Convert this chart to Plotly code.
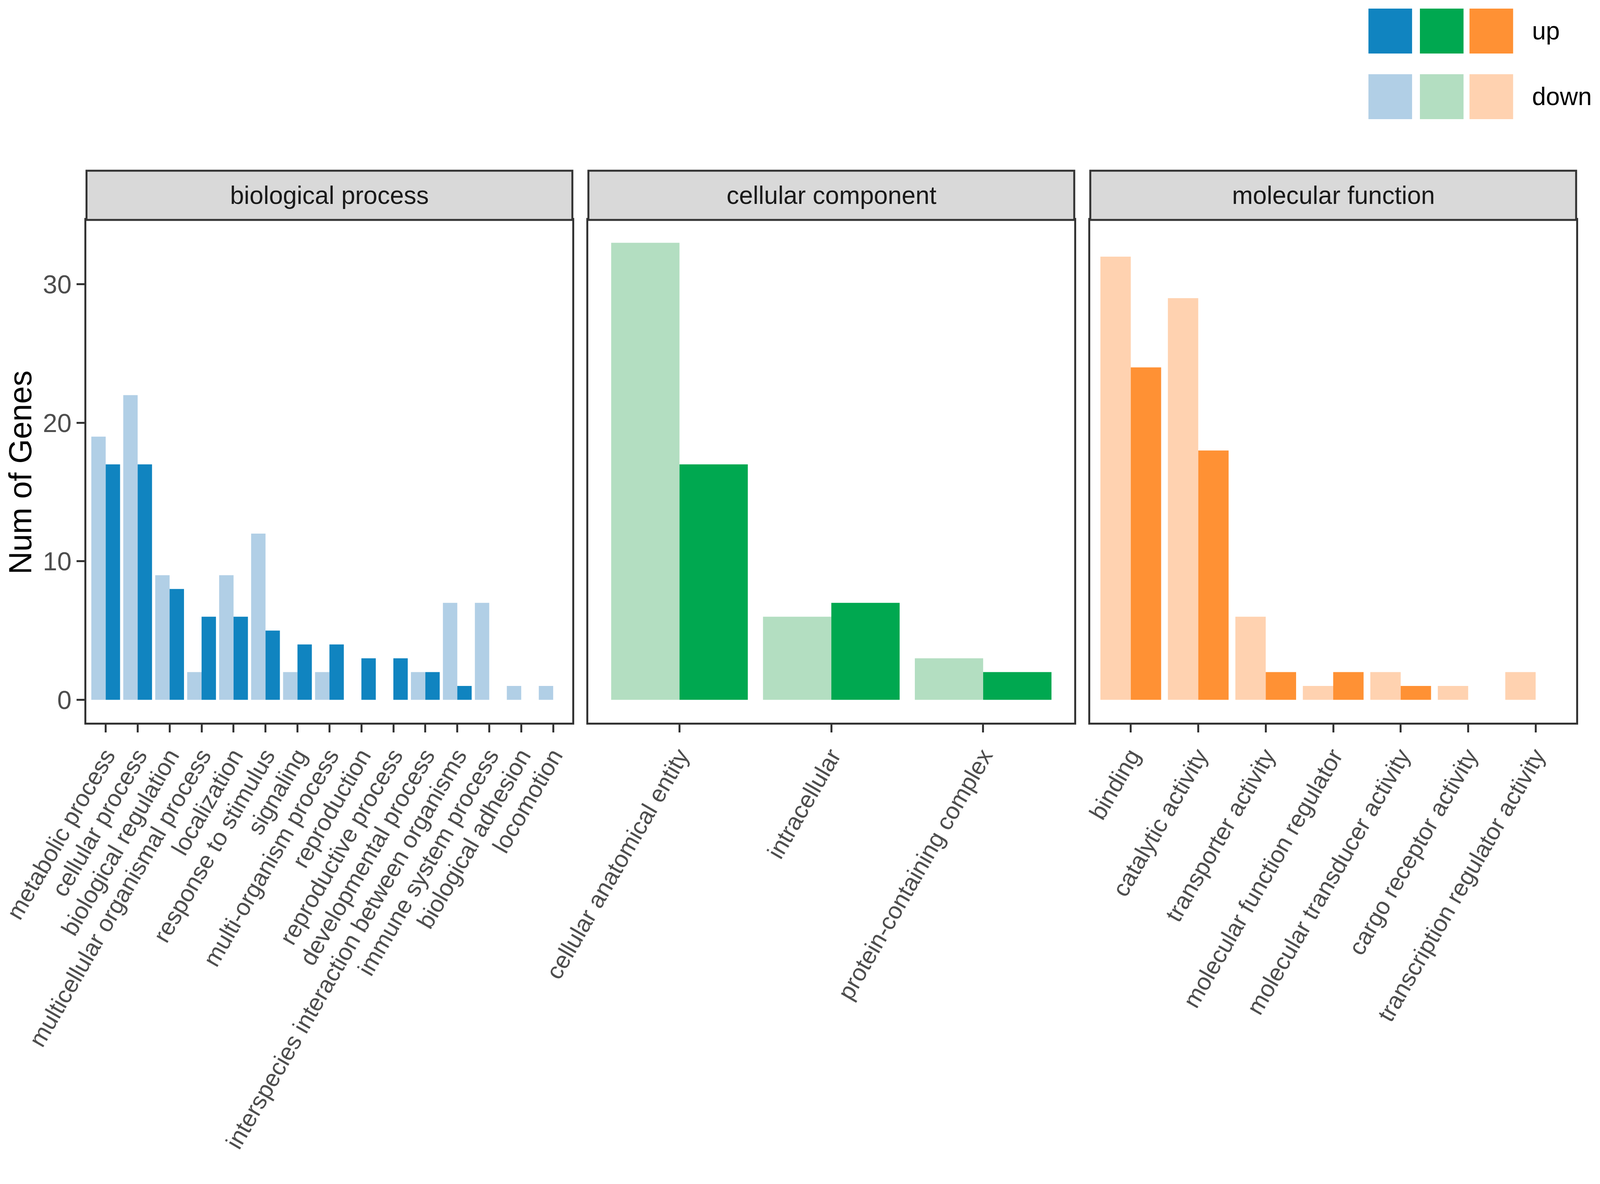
import plotly.graph_objects as go

# reference canvas (positions below are given on this canvas, then used as fractions)
W, H = 4291, 3031

# ---------------- data ----------------
panel_titles = ["biological process", "cellular component", "molecular function"]

bp_terms = ["metabolic process", "cellular process", "biological regulation",
            "multicellular organismal process", "localization", "response to stimulus",
            "signaling", "multi-organism process", "reproduction", "reproductive process",
            "developmental process", "interspecies interaction between organisms",
            "immune system process", "biological adhesion", "locomotion"]
bp_down = [19, 22, 9, 2, 9, 12, 2, 2, 0, 0, 2, 7, 7, 1, 1]
bp_up = [17, 17, 8, 6, 6, 5, 4, 4, 3, 3, 2, 1, 0, 0, 0]

cc_terms = ["cellular anatomical entity", "intracellular", "protein-containing complex"]
cc_down = [33, 6, 3]
cc_up = [17, 7, 2]

mf_terms = ["binding", "catalytic activity", "transporter activity",
            "molecular function regulator", "molecular transducer activity",
            "cargo receptor activity", "transcription regulator activity"]
mf_down = [32, 29, 6, 1, 2, 1, 2]
mf_up = [24, 18, 2, 2, 1, 0, 0]

y_ticks = [0, 10, 20, 30]
legend_labels = ["up", "down"]

up_colors = ["#1084C0", "#00A850", "#FF9134"]
down_colors = ["#B1CFE6", "#B3DEC1", "#FFD2B0"]

# ---------------- layout helpers ----------------
FONT = "Liberation Sans, Arial, Helvetica, sans-serif"
TICK_SIZE = 61
STRIP_SIZE = 64
TITLE_SIZE = 81
LEGEND_SIZE = 64


def px(x):
    return x / W


def py(y):
    return 1 - y / H


panels_x = [(232, 1535), (1578, 2881), (2924, 4227)]
panel_top, panel_bottom = 563, 1850
strip_top = 437
y_range = [-1.65, 34.65]

fig = go.Figure()

datasets = [(bp_terms, bp_down, bp_up), (cc_terms, cc_down, cc_up), (mf_terms, mf_down, mf_up)]

for i, (terms, down, up) in enumerate(datasets):
    ax = "" if i == 0 else str(i + 1)
    fig.add_trace(go.Bar(x=terms, y=down, name="down", marker_color=down_colors[i],
                         marker_line_width=0, xaxis="x" + ax, yaxis="y" + ax,
                         offsetgroup="down", showlegend=False))
    fig.add_trace(go.Bar(x=terms, y=up, name="up", marker_color=up_colors[i],
                         marker_line_width=0, xaxis="x" + ax, yaxis="y" + ax,
                         offsetgroup="up", showlegend=False))

layout = dict(
    autosize=True,
    margin=dict(l=0, r=0, t=0, b=0),
    paper_bgcolor="white", plot_bgcolor="white",
    barmode="group", bargap=0.1, bargroupgap=0,
    font=dict(family=FONT, size=TICK_SIZE, color="#4D4D4D"),
    showlegend=False,
)

for i, (terms, down, up) in enumerate(datasets):
    ax = "" if i == 0 else str(i + 1)
    x0, x1 = panels_x[i]
    n = len(terms)
    layout["xaxis" + ax] = dict(
        domain=[px(x0), px(x1)], anchor="y" + ax,
        type="category", range=[-0.6, n - 0.4],
        showline=True, linecolor="#333333", linewidth=5, mirror=True,
        ticks="outside", ticklen=20, tickwidth=5, tickcolor="#333333",
        tickangle=-60, tickfont=dict(family=FONT, size=TICK_SIZE, color="#4D4D4D"),
        showgrid=False, zeroline=False, automargin=False, fixedrange=True,
    )
    ydict = dict(
        domain=[py(panel_bottom), py(panel_top)], anchor="x" + ax,
        range=y_range, tickvals=y_ticks,
        showline=True, linecolor="#333333", linewidth=5, mirror=True,
        showgrid=False, zeroline=False, automargin=False, fixedrange=True,
    )
    if i == 0:
        ydict.update(ticks="outside", ticklen=20, tickwidth=5, tickcolor="#333333",
                     tickfont=dict(family=FONT, size=66, color="#4D4D4D"))
    else:
        ydict.update(ticks="", showticklabels=False)
    layout["yaxis" + ax] = ydict

shapes = []
annotations = []

# facet strips
for i, (x0, x1) in enumerate(panels_x):
    shapes.append(dict(type="rect", xref="paper", yref="paper",
                       x0=px(x0), x1=px(x1), y0=py(panel_top), y1=py(strip_top),
                       fillcolor="#D9D9D9", line=dict(color="#333333", width=5), layer="above"))
    annotations.append(dict(xref="paper", yref="paper", x=px((x0 + x1) / 2),
                            y=py((strip_top + panel_top) / 2), text=panel_titles[i],
                            showarrow=False, xanchor="center", yanchor="middle",
                            font=dict(family=FONT, size=STRIP_SIZE, color="#1A1A1A")))

# y-axis title
annotations.append(dict(xref="paper", yref="paper", x=px(54), y=py(1210),
                        text="Num of Genes", textangle=-90, showarrow=False,
                        xanchor="center", yanchor="middle",
                        font=dict(family=FONT, size=TITLE_SIZE, color="black")))

# legend: two rows of three colour keys
key_x = [3670, 3808, 3941]
key_w = 117
rows = [(22, 137), (190, 305)]
for r, (ya, yb) in enumerate(rows):
    cols = up_colors if r == 0 else down_colors
    for k in range(3):
        shapes.append(dict(type="rect", xref="paper", yref="paper",
                           x0=px(key_x[k]), x1=px(key_x[k] + key_w), y0=py(yb), y1=py(ya),
                           fillcolor=cols[k], line=dict(width=0)))
    annotations.append(dict(xref="paper", yref="paper", x=px(4107), y=py((ya + yb) / 2),
                            text=legend_labels[r], showarrow=False,
                            xanchor="left", yanchor="middle",
                            font=dict(family=FONT, size=LEGEND_SIZE, color="black")))

layout["shapes"] = shapes
layout["annotations"] = annotations
fig.update_layout(**layout)

post = """
document.documentElement.style.margin = '0';
document.body.style.margin = '0';
document.body.style.overflow = 'hidden';
var gd = document.getElementById('{plot_id}');
Plotly.Plots.resize(gd);
"""
fig.write_html("out.html", post_script=post, default_width="100vw", default_height="100vh",
               config={"responsive": True, "displayModeBar": False})
